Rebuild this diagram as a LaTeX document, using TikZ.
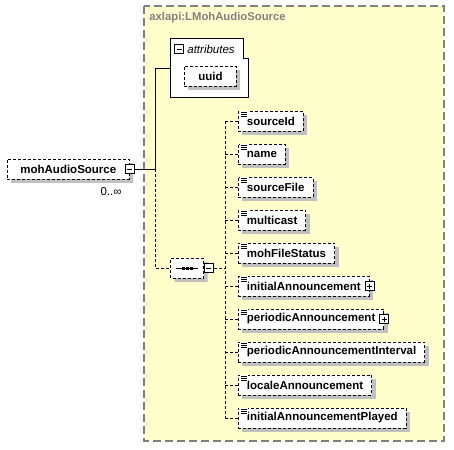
\documentclass[tikz,border=0pt]{standalone}
\usepackage{fontspec}
\setmainfont{Liberation Sans}
\usetikzlibrary{shapes.misc,shadows}
\definecolor{typebg}{RGB}{255,255,204}
\definecolor{shadowgray}{RGB}{192,192,192}
\definecolor{typeframe}{RGB}{128,128,128}
\tikzstyle{element}=[draw,dash pattern=on 3pt off 2pt,fill=white,minimum height=20pt,inner xsep=8.5pt,inner ysep=0pt,anchor=west,font=\fontsize{11.5}{13}\selectfont\bfseries,drop shadow={shadow xshift=4pt,shadow yshift=-4pt,fill=shadowgray,opacity=1}]
\tikzstyle{sequence}=[chamfered rectangle,chamfered rectangle xsep=0pt,chamfered rectangle sep=5pt,draw,dash pattern=on 3pt off 2pt,fill=white,minimum width=33pt,minimum height=20pt,inner sep=0pt,drop shadow={shadow xshift=4pt,shadow yshift=-4pt,fill=shadowgray,opacity=1}]
\tikzstyle{toggle}=[draw,solid,fill=white,minimum size=9pt,inner sep=0pt,line width=0.8pt]
\tikzstyle{minus}=[toggle,path picture={\draw ([xshift=2pt]path picture bounding box.west) -- ([xshift=-2pt]path picture bounding box.east);}]
\tikzstyle{plus}=[toggle,path picture={\draw ([xshift=2pt]path picture bounding box.west) -- ([xshift=-2pt]path picture bounding box.east);
    \draw ([yshift=2pt]path picture bounding box.south) -- ([yshift=-2pt]path picture bounding box.north);}]
\tikzstyle{edge}=[draw,line width=0.8pt,-]
\tikzstyle{optedge}=[edge,dash pattern=on 3pt off 2pt]

\begin{document}
\begin{tikzpicture}[x=1pt,y=-1pt,line width=0.8pt]
        \useasboundingbox (0,0) rectangle (454,449);
        % complex type frame
        \draw[fill=typebg,draw=typeframe,line width=1.2pt,dash pattern=on 8pt off 4pt] (144,6) rectangle (444,441);
        \node[anchor=west,text=typeframe,font=\fontsize{11.3}{13}\selectfont\bfseries,inner sep=0pt] (tname) at (149,18) {axlapi:LMohAudioSource};
        % attributes group
        \draw[fill=white] (170,38) -- (243,38) -- (243,58) -- (248,58) -- (248,97) -- (170,97) -- cycle;
        \node[minus] (attrm) at (179,49) {};
        \node[anchor=west,font=\fontsize{11.5}{13}\selectfont\itshape,inner sep=0pt] (attrtitle) at (187,49) {attributes};
        \node[element,minimum width=52pt] (uuid) at (184,76) {uuid};
        \coordinate (attrin) at (170,68);
        % root element
        \node[element,inner xsep=13pt] (root) at (7,169) {mohAudioSource};
        \node[minus] (rootm) at (root.east) {};
        \node[anchor=east,font=\fontsize{11.5}{13}\selectfont,inner sep=0pt] (card) at (122,192) {0..∞};
        \coordinate (fork) at (155,169);
        % sequence
        \node[sequence] (seq) at (187,268) {};
        \draw ([xshift=-11pt]seq.center) -- ([xshift=11pt]seq.center);
        \foreach \dx in {-4,0,4}
          \fill ([xshift=\dx pt]seq.center) +(-1.5,-1.5) rectangle +(1.5,1.5);
        \node[minus] (seqm) at ([xshift=5pt]seq.east) {};
        \coordinate (branch) at (225,268);
        % children
        \node[element] (sid) at (238,121) {sourceId};
        \node[element] (nam) at (238,154) {name};
        \node[element] (sfile) at (238,187) {sourceFile};
        \node[element] (mcast) at (238,220) {multicast};
        \node[element] (mfs) at (238,253) {mohFileStatus};
        \node[element] (ia) at (238,286) {initialAnnouncement\hspace{3pt}};
        \node[element] (pa) at (238,319) {periodicAnnouncement\hspace{3pt}};
        \node[element] (pai) at (238,352) {periodicAnnouncementInterval};
        \node[element] (la) at (238,385) {localeAnnouncement};
        \node[element] (iap) at (238,418) {initialAnnouncementPlayed};
        \node[plus] (iaplus) at (ia.east) {};
        \node[plus] (paplus) at (pa.east) {};
        % connectors
        \draw[edge] (rootm) -- (fork) |- (attrin);
        \draw[optedge] (fork) |- (seq.west);
        \draw[optedge] (seqm) -- (branch);
        \draw[optedge] (branch |- sid.west) -- (branch |- iap.west);
        \foreach \n in {sid,nam,sfile,mcast,mfs,ia,pa,pai,la,iap} {
          \draw[optedge] (branch |- \n.west) -- (\n.west);
          \fill[white] ([xshift=2pt]\n.north west) rectangle ++(8,7);
          \foreach \k in {2,4,6}
            \draw[line width=0.7pt] ([xshift=3pt]\n.north west) ++(0,\k) -- ++(6,0);
        }
      \end{tikzpicture}
\end{document}
